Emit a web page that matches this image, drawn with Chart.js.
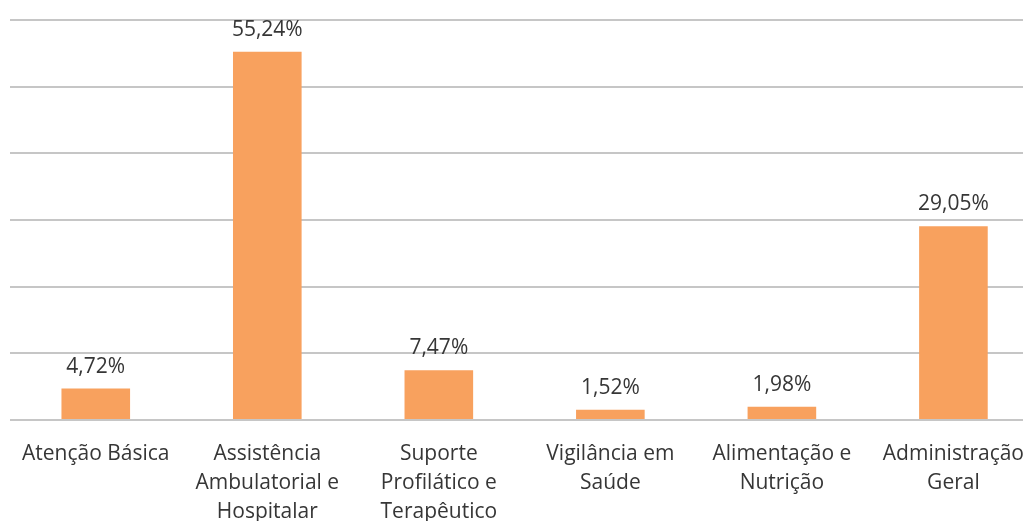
<!DOCTYPE html>
<html>
<head>
<meta charset="utf-8">
<script src="https://cdn.jsdelivr.net/npm/chart.js@4/dist/chart.umd.min.js"></script>
<style>
  html, body { margin: 0; padding: 0; background: #fff; overflow: hidden; }
  #wrap { width: 1044px; height: 521px; }
</style>
</head>
<body>
<div id="wrap"><canvas id="chart"></canvas></div>
<script>
// Spending share per area (percent)
const categories = [
  ['Atenção Básica'],
  ['Assistência', 'Ambulatorial e', 'Hospitalar'],
  ['Suporte', 'Profilático e', 'Terapêutico'],
  ['Vigilância em', 'Saúde'],
  ['Alimentação e', 'Nutrição'],
  ['Administração', 'Geral']
];
const shares = [4.72, 55.24, 7.47, 1.52, 1.98, 29.05];
const yTicks = [0, 10, 20, 30, 40, 50, 60];

const fontFamily = '"Open Sans", sans-serif';

// draws the value above each bar, with a comma as decimal mark
const valueLabels = {
  id: 'valueLabels',
  afterDatasetsDraw(chart) {
    const ctx = chart.ctx;
    const meta = chart.getDatasetMeta(0);
    ctx.save();
    ctx.font = '21px ' + fontFamily;
    ctx.fillStyle = '#363636';
    ctx.textAlign = 'center';
    ctx.textBaseline = 'middle';
    meta.data.forEach((bar, i) => {
      const text = shares[i].toFixed(2).replace('.', ',') + '%';
      ctx.fillText(text, bar.x, bar.y - 22);
    });
    ctx.restore();
  }
};

new Chart(document.getElementById('chart'), {
  type: 'bar',
  data: {
    labels: categories,
    datasets: [{
      data: shares,
      backgroundColor: '#F8A15E',
      barPercentage: 0.4,
      categoryPercentage: 1.0
    }]
  },
  options: {
    responsive: true,
    maintainAspectRatio: false,
    animation: false,
    layout: { padding: { left: 10, top: 20, right: 0, bottom: 0 } },
    plugins: {
      legend: { display: false },
      tooltip: { enabled: false }
    },
    scales: {
      x: {
        grid: { display: false, drawTicks: false },
        border: { display: false },
        ticks: {
          autoSkip: false,
          maxRotation: 0,
          padding: 20,
          color: '#363636',
          font: { family: fontFamily, size: 21, lineHeight: 1.38 }
        },
        afterFit(scale) { scale.height = 101; }
      },
      y: {
        min: 0,
        max: 60,
        afterBuildTicks(scale) { scale.ticks = yTicks.map(v => ({ value: v })); },
        grid: { color: '#c6c6c6', lineWidth: 2, drawTicks: false },
        border: { display: false },
        ticks: { display: false },
        afterFit(scale) { scale.width = 0; }
      }
    }
  },
  plugins: [valueLabels]
});
</script>
</body>
</html>
